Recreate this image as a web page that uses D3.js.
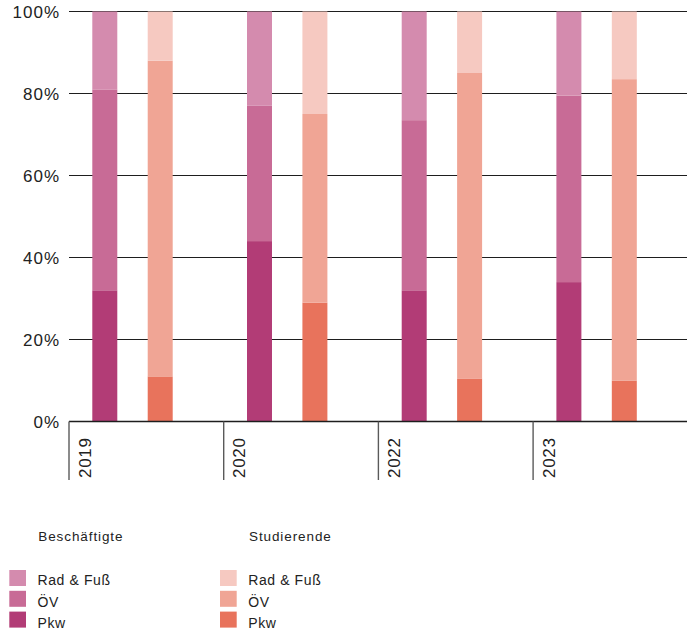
<!DOCTYPE html>
<html>
<head>
<meta charset="utf-8">
<script src="https://cdn.jsdelivr.net/npm/d3@7"></script>
<style>
  html, body { margin: 0; padding: 0; background: #fff; }
  svg { display: block; }
  text { font-family: "Liberation Sans", Arial, sans-serif; fill: #222; }
</style>
</head>
<body>
<svg id="chart" width="687" height="634"></svg>
<script>
// Modal split (share of trips in %) by year, for employees and students
const years = ["2019", "2020", "2022", "2023"];
const groups = ["Beschäftigte", "Studierende"];
const modes = ["Pkw", "ÖV", "Rad & Fuß"];

const beschPkw = [32, 44, 32, 34];
const beschOeV = [49, 33, 41.5, 45.5];
const beschRad = [19, 23, 26.5, 20.5];

const studPkw = [11, 29, 10.5, 10];
const studOeV = [77, 46, 74.5, 73.5];
const studRad = [12, 25, 15, 16.5];

const yTicks = [0, 20, 40, 60, 80, 100];

const colors = {
  "Beschäftigte": { "Pkw": "#b23c76", "ÖV": "#c86b96", "Rad & Fuß": "#d48bae" },
  "Studierende": { "Pkw": "#e8735c", "ÖV": "#f0a595", "Rad & Fuß": "#f6c9c1" }
};

const rows = [];
years.forEach((yr, i) => {
  rows.push({ year: yr, group: "Beschäftigte", "Pkw": beschPkw[i], "ÖV": beschOeV[i], "Rad & Fuß": beschRad[i] });
  rows.push({ year: yr, group: "Studierende", "Pkw": studPkw[i], "ÖV": studOeV[i], "Rad & Fuß": studRad[i] });
});

const svg = d3.select("#chart");
const plotLeft = 69, plotRight = 687.8, plotTop = 11.5, plotBottom = 421.5;

const x0 = d3.scaleBand().domain(years).range([plotLeft, plotRight]).padding(0);
const x1 = d3.scaleBand().domain(groups).range([23.3, 103.7]).paddingInner(0.549).paddingOuter(0);
const y = d3.scaleLinear().domain([0, 100]).range([plotBottom, plotTop]);

// horizontal gridlines
svg.append("g")
  .selectAll("line")
  .data(yTicks.filter(d => d > 0))
  .join("line")
  .attr("x1", plotLeft).attr("x2", 687)
  .attr("y1", d => y(d)).attr("y2", d => y(d))
  .attr("stroke", "#1e1e1e").attr("stroke-width", 1.1);

// y tick labels
svg.append("g")
  .selectAll("text")
  .data(yTicks)
  .join("text")
  .attr("x", 60)
  .attr("y", d => y(d))
  .attr("dy", "0.36em")
  .attr("text-anchor", "end")
  .style("font-size", "17px")
  .style("letter-spacing", "1px")
  .text(d => d + "%");

// stacked bars
const stack = d3.stack().keys(modes);
const series = stack(rows);

const barG = svg.append("g");
series.forEach(s => {
  barG.append("g")
    .selectAll("rect")
    .data(s)
    .join("rect")
    .attr("x", d => x0(d.data.year) + x1(d.data.group))
    .attr("width", x1.bandwidth())
    .attr("y", d => y(d[1]))
    .attr("height", d => y(d[0]) - y(d[1]))
    .attr("fill", d => colors[d.data.group][s.key]);
});

// baseline and year separators
svg.append("line")
  .attr("x1", plotLeft).attr("x2", 687)
  .attr("y1", plotBottom).attr("y2", plotBottom)
  .attr("stroke", "#1e1e1e").attr("stroke-width", 1.4);

const xg = svg.append("g");
xg.selectAll("line")
  .data(years)
  .join("line")
  .attr("x1", d => x0(d)).attr("x2", d => x0(d))
  .attr("y1", plotBottom).attr("y2", 480)
  .attr("stroke", "#5a5a5a").attr("stroke-width", 1.4);

xg.selectAll("text")
  .data(years)
  .join("text")
  .attr("transform", d => `translate(${x0(d) + 21.6},478) rotate(-90)`)
  .attr("text-anchor", "start")
  .style("font-size", "17px")
  .style("letter-spacing", "0.7px")
  .text(d => d);

// legend
const legendX = { "Beschäftigte": 9.3, "Studierende": 220 };
groups.forEach(g => {
  const lg = svg.append("g").attr("transform", `translate(${legendX[g]},0)`);
  lg.append("text")
    .attr("x", 29).attr("y", 541)
    .style("font-size", "13.5px")
    .style("letter-spacing", "0.9px")
    .text(g);
  const items = modes.slice().reverse();
  items.forEach((m, i) => {
    lg.append("rect")
      .attr("x", 0).attr("y", 570 + i * 20.8)
      .attr("width", 16.7).attr("height", 16)
      .attr("fill", colors[g][m]);
    lg.append("text")
      .attr("x", 28.2).attr("y", 585.2 + i * 21.3)
      .style("font-size", "14px")
      .style("letter-spacing", "0.6px")
      .text(m);
  });
});
</script>
</body>
</html>
